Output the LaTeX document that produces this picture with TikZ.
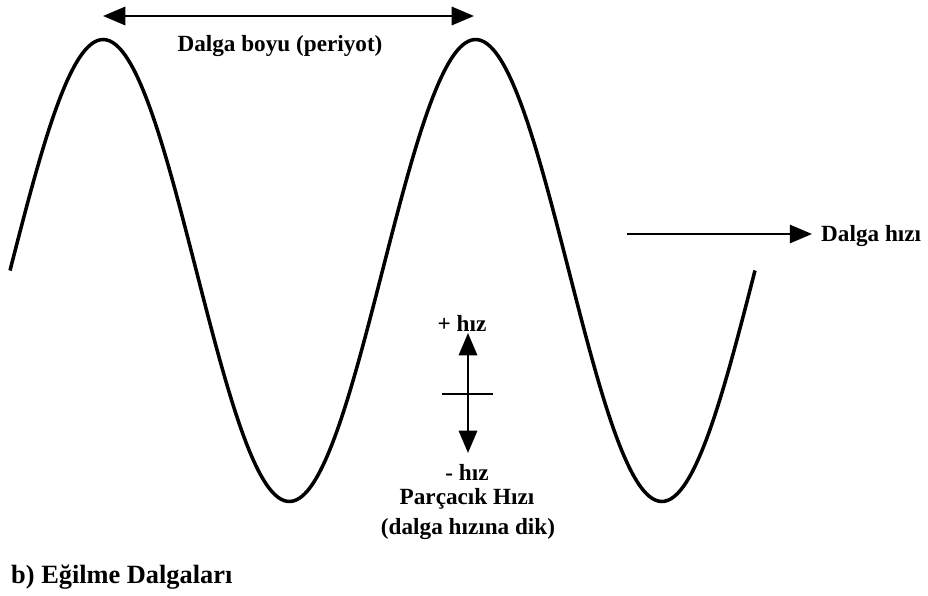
\documentclass[tikz,border=0pt]{standalone}
\usepackage{fontspec}
\setmainfont{Liberation Serif}
\usetikzlibrary{arrows.meta}
\begin{document}
\begin{tikzpicture}[x=0.03cm,y=-0.03cm,>={Triangle[length=19pt,width=15.5pt]},
		lbl/.style={font=\bfseries\fontsize{19.8}{23}\selectfont,inner sep=0pt},
		ok/.style={line width=2.3pt}]
		\useasboundingbox (0,0) rectangle (928,596);
		% dalga
		\draw[line width=3pt,domain=10:755,samples=240,smooth] plot (\x,{270.5-231*sin(0.96644*(\x-10))});
		% dalga boyu
		\coordinate (bolA) at (103,16);
		\coordinate (bolB) at (474,16);
		\draw[ok,<->] (bolA) -- (bolB);
		\node[lbl] (boy) at (280,46) {Dalga boyu (periyot)};
		% dalga hizi
		\coordinate (hA) at (627,234);
		\coordinate (hB) at (812,234);
		\draw[ok,->] (hA) -- (hB);
		\node[lbl,anchor=west] (hiz) at (821,236) {Dalga hızı};
		% parcacik hizi
		\coordinate (pO) at (468,394);
		\coordinate (pU) at (468,333);
		\coordinate (pD) at (468,453);
		\coordinate (cL) at (442,394);
		\coordinate (cR) at (493,394);
		\draw[ok,->] (pO) -- (pU);
		\draw[ok,->] (pO) -- (pD);
		\draw[ok] (cL) -- (cR);
		\node[lbl] (arti) at (462,323) {+ hız};
		\node[lbl] (eksi) at (467,472) {- hız};
		\node[lbl] (parc) at (467,499) {Parçacık Hızı};
		\node[lbl] (dik) at (468,529) {(dalga hızına dik)};
		\node[lbl,font=\bfseries\fontsize{22.5}{26}\selectfont,anchor=west] (baslik) at (11,577) {b) Eğilme Dalgaları};
	\end{tikzpicture}
\end{document}
